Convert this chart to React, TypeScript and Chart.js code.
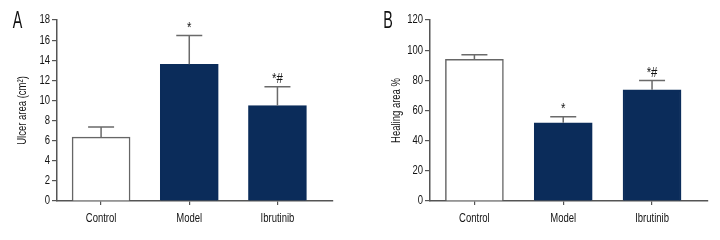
import React, { useEffect, useRef } from 'react';
import { Chart, registerables } from 'chart.js';
Chart.register(...registerables);

const categories = ['Control', 'Model', 'Ibrutinib'];
const ulcerArea = [6.35, 13.6, 9.5];
const ulcerErrTop = [7.35, 16.45, 11.35];
const healingArea = [93.9, 51.8, 73.7];
const healingErrTop = [97.0, 55.8, 79.9];
const marksA = ['', '*', '*#'];
const marksB = ['', '*', '*#'];

const FAMILY = "'Liberation Sans', Arial, sans-serif";
const NARROW = 0.76; // horizontal text compression to mimic a condensed face
const NAVY = '#0b2c5a';
const AXIS = '#555555';
const TEXT = '#141414';

function condense(canvas: HTMLCanvasElement, sx: number) {
  const ctx: any = canvas.getContext('2d');
  const orig = ctx.fillText;
  ctx.fillText = function (text: string, x: number, y: number, maxWidth?: number) {
    this.save();
    this.translate(x, y);
    this.scale(sx, 1);
    if (maxWidth === undefined) orig.call(this, text, 0, 0);
    else orig.call(this, text, 0, 0, maxWidth / sx);
    this.restore();
  };
}

function overlay(errTop: number[], marks: string[], letter: string, letterX: number) {
  return {
    id: 'overlay',
    afterDatasetsDraw(chart: any) {
      const { ctx } = chart;
      const meta = chart.getDatasetMeta(0);
      const yScale = chart.scales.y;
      meta.data.forEach((el: any, i: number) => {
        const x = el.x;
        const yTop = el.y;
        const yErr = yScale.getPixelForValue(errTop[i]);
        ctx.save();
        ctx.strokeStyle = '#6a6a6a';
        ctx.lineWidth = 1.5;
        ctx.beginPath();
        ctx.moveTo(x, yTop);
        ctx.lineTo(x, yErr);
        ctx.moveTo(x - 13, yErr);
        ctx.lineTo(x + 13, yErr);
        ctx.stroke();
        if (marks[i]) {
          ctx.fillStyle = TEXT;
          ctx.font = `15px ${FAMILY}`;
          ctx.textAlign = 'center';
          ctx.textBaseline = 'alphabetic';
          ctx.fillText(marks[i], x, yErr - 3.5);
        }
        ctx.restore();
      });
      ctx.save();
      ctx.fillStyle = '#111';
      ctx.font = `23px ${FAMILY}`;
      ctx.textAlign = 'center';
      ctx.textBaseline = 'alphabetic';
      ctx.translate(letterX, 28);
      ctx.scale(0.82, 1);
      ctx.fillText(letter, 0, 0);
      ctx.restore();
    },
  };
}

function makeConfig(
  values: number[],
  errTop: number[],
  marks: string[],
  letter: string,
  letterX: number,
  yMax: number,
  yStep: number,
  yTitle: string,
  yWidth: number,
  titlePad: number,
  padRight: number
): any {
  const font = { family: FAMILY, size: 12.5 };
  return {
    type: 'bar',
    data: {
      datasets: [
        {
          data: values.map((v, i) => ({ x: i, y: v })),
          backgroundColor: ['#ffffff', NAVY, NAVY],
          borderColor: ['#666666', NAVY, NAVY],
          borderWidth: 1.5,
          barThickness: 58,
        },
      ],
    },
    options: {
      animation: false,
      responsive: false,
      maintainAspectRatio: false,
      layout: { padding: { left: 0, top: 20, right: padRight, bottom: 0 } },
      plugins: { legend: { display: false }, tooltip: { enabled: false }, title: { display: false } },
      scales: {
        x: {
          type: 'linear',
          offset: false,
          min: -0.5,
          max: 2.63,
          afterFit: (s: any) => { s.height = 39; },
          afterBuildTicks: (s: any) => { s.ticks = categories.map((_, i) => ({ value: i })); },
          ticks: {
            callback: (v: any) => categories[v] ?? '',
            color: TEXT,
            font,
            padding: 6,
            maxRotation: 0,
            autoSkip: false,
          },
          grid: { display: true, offset: false, drawOnChartArea: false, drawTicks: true, tickLength: 4, color: AXIS, lineWidth: 1.2 },
          border: { display: true, color: AXIS, width: 1.5 },
        },
        y: {
          min: 0,
          max: yMax,
          afterFit: (s: any) => { s.width = yWidth; },
          ticks: { stepSize: yStep, color: TEXT, font, padding: 2 },
          grid: { display: true, drawOnChartArea: false, drawTicks: true, tickLength: 5, color: AXIS, lineWidth: 1.2 },
          border: { display: true, color: AXIS, width: 1.5 },
          title: {
            display: true,
            text: yTitle,
            color: TEXT,
            font,
            padding: { top: titlePad, bottom: 0 },
          },
        },
      },
    },
    plugins: [overlay(errTop, marks, letter, letterX)],
  };
}

export default function App() {
  const refA = useRef<HTMLCanvasElement>(null);
  const refB = useRef<HTMLCanvasElement>(null);
  useEffect(() => {
    document.body.style.margin = '0';
    condense(refA.current!, NARROW);
    condense(refB.current!, NARROW);
    const a = new Chart(
      refA.current!,
      makeConfig(ulcerArea, ulcerErrTop, marksA, 'A', 17.5, 18, 2, 'Ulcer area (cm²)', 57, 15, 27)
    );
    const b = new Chart(
      refB.current!,
      makeConfig(healingArea, healingErrTop, marksB, 'B', 28, 120, 20, 'Healing area %', 70, 29, 12)
    );
    return () => { a.destroy(); b.destroy(); };
  }, []);
  return (
    <div style={{ position: 'fixed', left: 0, top: 0, width: 720, height: 240, background: '#fff', display: 'flex' }}>
      <canvas ref={refA} width={360} height={240} style={{ width: 360, height: 240 }} />
      <canvas ref={refB} width={360} height={240} style={{ width: 360, height: 240 }} />
    </div>
  );
}
